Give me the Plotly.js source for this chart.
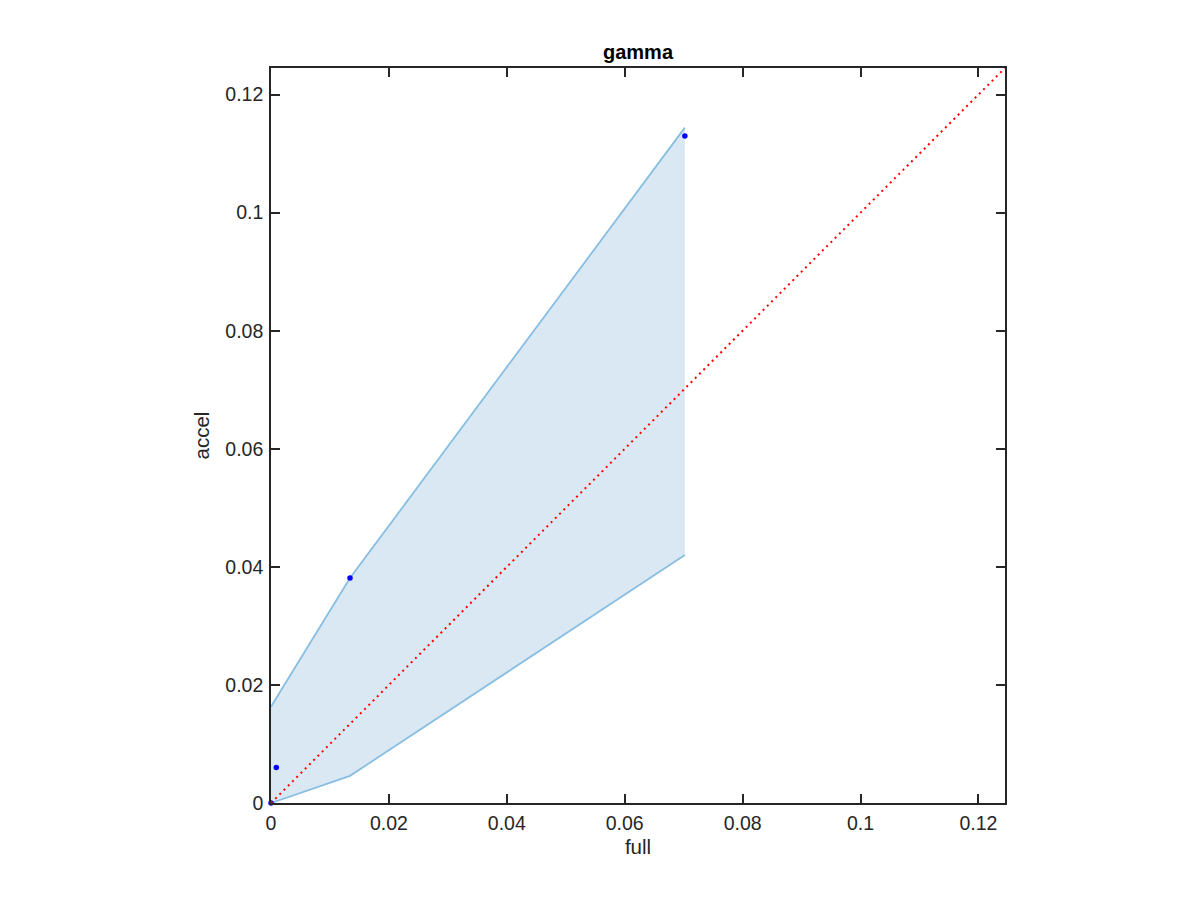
<!DOCTYPE html>
<html><head><meta charset="utf-8">
<script src="https://cdn.plot.ly/plotly-3.0.1.min.js"></script>
<style>html,body{margin:0;padding:0;background:#fff}</style>
</head><body>
<div id="plot" style="width:1200px;height:900px"></div>
<script>
const fullX = [0, 0.0009, 0.0134, 0.0702];
const upperY = [0.0163, 0.0178, 0.0381, 0.1144];
const lowerY = [0, 0.0003, 0.0046, 0.042];
const pointX = [0, 0.0009, 0.0134, 0.0702];
const pointY = [0, 0.006, 0.0381, 0.113];
const diagX = [0, 0.1245];
const diagY = [0, 0.1245];
const tickVals = [0, 0.02, 0.04, 0.06, 0.08, 0.1, 0.12];
const tickText = ['0', '0.02', '0.04', '0.06', '0.08', '0.1', '0.12'];

const bandColor = 'rgb(136,190,226)';
const traces = [
  {x: fullX, y: lowerY, mode: 'lines', line: {color: bandColor, width: 1.8}, hoverinfo: 'skip'},
  {x: fullX, y: upperY, mode: 'lines', fill: 'tonexty', fillcolor: 'rgb(218,232,244)',
   line: {color: bandColor, width: 1.8}, hoverinfo: 'skip'},
  {x: pointX, y: pointY, mode: 'markers', cliponaxis: false, marker: {color: 'rgb(0,0,255)', size: 5.5}},
  {x: diagX, y: diagY, mode: 'lines', cliponaxis: false, line: {color: 'rgb(255,0,0)', width: 2, dash: '2px,4px'}}
];
const axisBase = {
  range: [0, 0.1245], tickvals: tickVals, ticktext: tickText,
  ticks: 'inside', ticklen: 9, tickwidth: 1.5, tickcolor: '#262626',
  showline: true, linecolor: '#262626', linewidth: 1.6, mirror: 'ticks',
  showgrid: false, zeroline: false,
  tickfont: {family: 'Liberation Sans, Arial, sans-serif', size: 19.5, color: '#262626'}
};
const layout = {
  width: 1200, height: 900,
  margin: {l: 271, r: 195, t: 68, b: 97},
  paper_bgcolor: '#fff', plot_bgcolor: '#fff',
  showlegend: false,
  title: {text: '<b>gamma</b>', x: 0.5, xref: 'paper', y: 0.942, yanchor: 'middle',
          font: {family: 'Liberation Sans, Arial, sans-serif', size: 20, color: '#000'}},
  xaxis: Object.assign({}, axisBase, {
    ticklabelstandoff: 2,
    title: {text: 'full', standoff: 6, font: {family: 'Liberation Sans, Arial, sans-serif', size: 20.5, color: '#262626'}}
  }),
  yaxis: Object.assign({}, axisBase, {
    ticklabelstandoff: 2,
    title: {text: 'accel', standoff: 10, font: {family: 'Liberation Sans, Arial, sans-serif', size: 20.5, color: '#262626'}}
  })
};
Plotly.newPlot('plot', traces, layout, {displayModeBar: false});
</script>
</body></html>
